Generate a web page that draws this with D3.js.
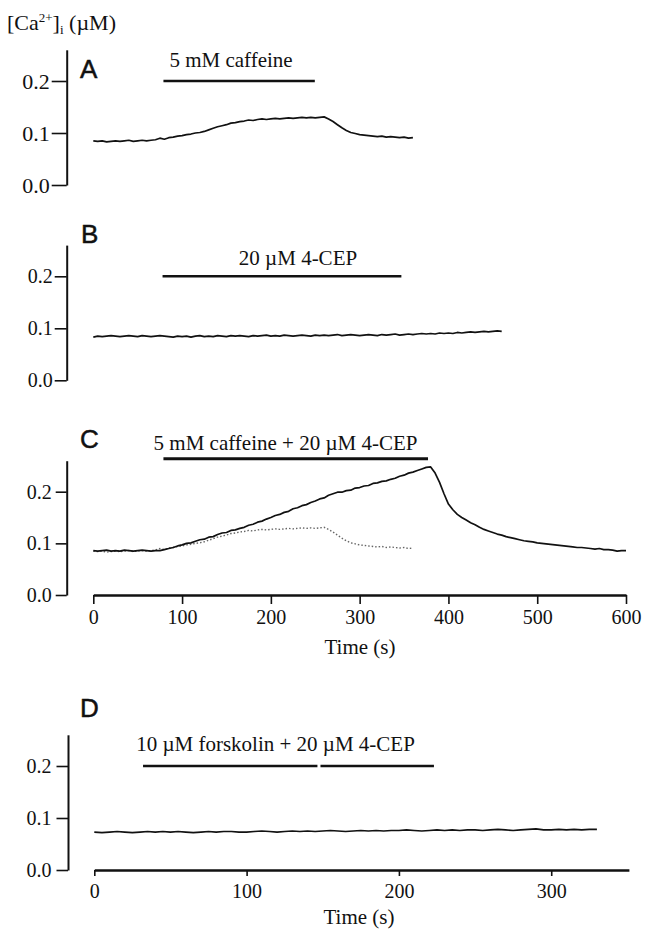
<!DOCTYPE html>
<html>
<head>
<meta charset="utf-8">
<script src="https://cdn.jsdelivr.net/npm/d3@7"></script>
<style>
  body { margin: 0; background: #fff; }
  svg text { font-family: "Liberation Serif", "Times New Roman", serif; fill: #111; }
  .letter { font-family: "Liberation Sans", Arial, sans-serif; stroke: #111; stroke-width: 0.5; }
</style>
</head>
<body>
<svg class="chart" width="645" height="932"></svg>
<script>
/******** Data ********/
var dt = 5; // seconds between samples

// A: 5 mM caffeine (also the dotted trace in C)
var caffeineTrace = [
  0.085,0.084,0.085,0.083,0.084,0.085,0.084,0.085,0.086,0.084,0.085,0.086,0.085,0.086,0.087,0.090,0.088,0.091,0.092,0.094,
  0.095,0.097,0.098,0.100,0.101,0.103,0.106,0.109,0.112,0.114,0.116,0.119,0.120,0.122,0.123,0.125,0.124,0.126,0.127,0.126,
  0.127,0.128,0.127,0.128,0.129,0.128,0.129,0.130,0.129,0.130,0.129,0.130,0.131,0.127,0.122,0.116,0.110,0.105,0.101,0.099,
  0.097,0.096,0.095,0.094,0.093,0.094,0.092,0.093,0.092,0.091,0.092,0.090,0.091
];

// B: 20 uM 4-CEP
var cepTrace = [
  0.083,0.085,0.084,0.085,0.086,0.085,0.084,0.085,0.086,0.085,0.084,0.086,0.085,0.084,0.085,0.086,0.085,0.084,0.083,0.085,
  0.084,0.085,0.083,0.085,0.086,0.084,0.085,0.084,0.086,0.085,0.084,0.086,0.085,0.086,0.085,0.084,0.086,0.085,0.086,0.087,
  0.085,0.086,0.085,0.087,0.086,0.085,0.086,0.087,0.086,0.085,0.087,0.086,0.087,0.086,0.087,0.088,0.086,0.087,0.088,0.087,
  0.086,0.087,0.088,0.087,0.086,0.088,0.087,0.088,0.089,0.087,0.088,0.089,0.088,0.089,0.090,0.089,0.090,0.089,0.091,0.090,
  0.091,0.090,0.092,0.091,0.092,0.093,0.092,0.093,0.094,0.093,0.094,0.095,0.094
];

// C: caffeine + 4-CEP
var comboTrace = [
  0.086,0.085,0.086,0.087,0.085,0.086,0.085,0.087,0.086,0.085,0.086,0.087,0.086,0.085,0.086,0.086,0.088,0.090,0.092,0.095,
  0.097,0.100,0.101,0.104,0.107,0.108,0.112,0.113,0.117,0.120,0.121,0.125,0.126,0.129,0.131,0.135,0.137,0.141,0.143,0.147,
  0.150,0.154,0.156,0.160,0.162,0.167,0.169,0.173,0.175,0.179,0.182,0.186,0.188,0.193,0.196,0.199,0.199,0.202,0.203,0.207,
  0.208,0.211,0.212,0.216,0.217,0.220,0.221,0.224,0.226,0.230,0.232,0.236,0.238,0.241,0.244,0.247,0.248,0.236,0.218,0.196,
  0.176,0.165,0.156,0.150,0.145,0.140,0.136,0.131,0.127,0.124,0.121,0.118,0.116,0.113,0.111,0.109,0.107,0.105,0.104,0.103,
  0.101,0.100,0.099,0.098,0.097,0.096,0.095,0.094,0.093,0.092,0.092,0.091,0.090,0.089,0.090,0.088,0.088,0.087,0.085,0.086,0.086
];

// D: forskolin + 4-CEP
var forskolinTrace = [
  0.073,0.072,0.073,0.074,0.073,0.072,0.073,0.074,0.073,0.074,0.073,0.074,0.073,0.072,0.073,0.074,0.073,0.074,0.074,0.073,
  0.073,0.074,0.075,0.074,0.073,0.074,0.075,0.074,0.075,0.074,0.075,0.076,0.075,0.074,0.075,0.076,0.075,0.076,0.075,0.076,
  0.076,0.077,0.076,0.075,0.076,0.077,0.076,0.077,0.076,0.077,0.077,0.076,0.077,0.078,0.077,0.076,0.077,0.078,0.079,0.077,
  0.077,0.078,0.077,0.078,0.077,0.078,0.078
];

// drug application bars (start, end in s) and their level
var barLabels = ["5 mM caffeine", "20 \u00B5M 4-CEP", "5 mM caffeine + 20 \u00B5M 4-CEP", "10 \u00B5M forskolin + 20 \u00B5M 4-CEP"];
var barSegments = [[[79, 249.5]], [[78, 347]], [[79, 377]], [[32, 146.5], [148.5, 223]]];
var barLevels = [0.2, 0.2, 0.264, 0.2];

var panelLetters = ["A", "B", "C", "D"];
var yTicks = [0, 0.1, 0.2];
var timeTicksC = [0, 100, 200, 300, 400, 500, 600];
var timeTicksD = [0, 100, 200, 300];

/******** Scales ********/
// A, B, C share one time base; D is stretched
var xLong = d3.scaleLinear().domain([0, 600]).range([93.3, 626]);
var xShort = d3.scaleLinear().domain([0, 351]).range([94.3, 628.9]);

var canvas = d3.select(".chart");

// panel layout
var panels = [
  {trace: caffeineTrace, x: xLong, y0: 185, unit: 520, axisX: 66.7, tick: 15, pad: 2, fs: 22,
   letter: [80, 78], label: [231, 66.7]},
  {trace: cepTrace, x: xLong, y0: 380.3, unit: 520, axisX: 66.7, tick: 12, pad: 2, fs: 20,
   letter: [81, 243], label: [298, 265]},
  {trace: comboTrace, x: xLong, y0: 595, unit: 516.5, axisX: 66.7, tick: 11, pad: 4, fs: 20,
   letter: [80, 447.5], label: [285.5, 450], dotted: caffeineTrace,
   xTicks: timeTicksC, xTickSize: 9, xPad: 6, xTitle: [360, 654]},
  {trace: forskolinTrace, x: xShort, y0: 870, unit: 520, axisX: 68, tick: 11.5, pad: 5, fs: 20,
   letter: [80, 717], label: [275.5, 750.7],
   xTicks: timeTicksD, xTickSize: 6, xPad: 8, xTitle: [359, 924]}
];

/******** Title ********/
var title = canvas.append("text").attr("x", 7).attr("y", 30).style("font-size", "22px");
title.append("tspan").text("[Ca");
title.append("tspan").text("2+").attr("dy", -8).style("font-size", "13px");
title.append("tspan").text("]").attr("dy", 8);
title.append("tspan").text("i").attr("dy", 4).style("font-size", "13px");
title.append("tspan").text(" (\u00B5M)").attr("dy", -4);

/******** Panels ********/
panels.forEach(function (p, k) {
  var y = d3.scaleLinear().domain([0, 0.26]).range([p.y0, p.y0 - 0.26 * p.unit]);
  var line = d3.line()
    .x((d, i) => p.x(i * dt))
    .y(d => y(d));

  // y axis
  var yAxisGroup = canvas.append("g")
    .attr("transform", "translate(" + p.axisX + ",0)")
    .call(d3.axisLeft(y).tickValues(yTicks).tickFormat(d3.format(".1f"))
      .tickSize(p.tick).tickSizeOuter(0).tickPadding(p.pad));
  yAxisGroup.select(".domain").attr("stroke", "#111").attr("stroke-width", 2);
  yAxisGroup.selectAll(".tick line").attr("stroke", "#111").attr("stroke-width", 1.6);
  yAxisGroup.selectAll("text").style("font-size", p.fs + "px");

  // x axis (C and D only)
  if (p.xTicks) {
    var xAxisGroup = canvas.append("g")
      .attr("transform", "translate(0," + p.y0 + ")")
      .call(d3.axisBottom(p.x).tickValues(p.xTicks)
        .tickSize(p.xTickSize).tickSizeOuter(0).tickPadding(p.xPad));
    xAxisGroup.select(".domain").attr("stroke", "#111").attr("stroke-width", 2.4);
    xAxisGroup.selectAll(".tick line").attr("stroke", "#111").attr("stroke-width", 1.6);
    xAxisGroup.selectAll("text").style("font-size", "20px");

    canvas.append("text")
      .attr("x", p.xTitle[0])
      .attr("y", p.xTitle[1])
      .style("text-anchor", "middle")
      .style("font-size", "21px")
      .text("Time (s)");
  }

  // control trace drawn dotted under the main one
  if (p.dotted) {
    canvas.append("path")
      .datum(p.dotted)
      .attr("fill", "none")
      .attr("stroke", "#666")
      .attr("stroke-width", 1.4)
      .attr("stroke-dasharray", "1.5,2")
      .attr("d", line);
  }

  canvas.append("path")
    .datum(p.trace)
    .attr("fill", "none")
    .attr("stroke", "#111")
    .attr("stroke-width", 1.7)
    .attr("stroke-linejoin", "round")
    .attr("d", line);

  // application bar
  barSegments[k].forEach(function (seg) {
    canvas.append("line")
      .attr("x1", p.x(seg[0]))
      .attr("x2", p.x(seg[1]))
      .attr("y1", y(barLevels[k]))
      .attr("y2", y(barLevels[k]))
      .attr("stroke", "#111")
      .attr("stroke-width", k == 2 ? 3 : 2.5);
  });

  canvas.append("text")
    .attr("x", p.label[0])
    .attr("y", p.label[1])
    .style("text-anchor", "middle")
    .style("font-size", "21px")
    .text(barLabels[k]);

  canvas.append("text")
    .attr("class", "letter")
    .attr("x", p.letter[0])
    .attr("y", p.letter[1])
    .style("font-size", "26px")
    .text(panelLetters[k]);
});
</script>
</body>
</html>
